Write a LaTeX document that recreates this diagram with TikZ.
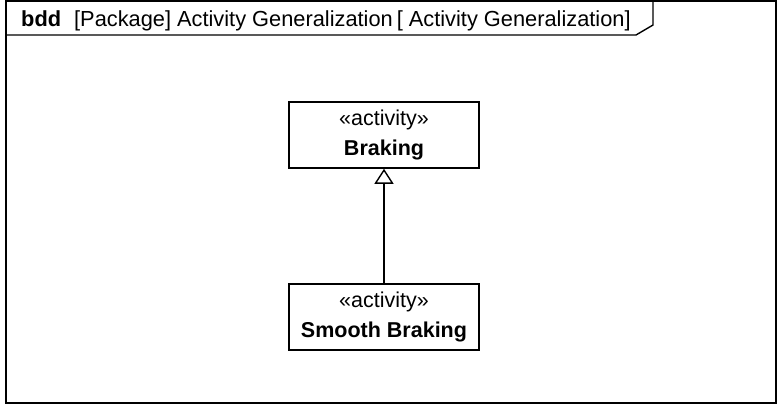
\documentclass[tikz,border=0pt]{standalone}
\usepackage{fontspec}
\setmainfont{Liberation Sans}
\usetikzlibrary{arrows.meta}
\begin{document}
\begin{tikzpicture}[x=1pt,y=-1pt,
  blockbox/.style={draw, line width=1.6pt, minimum width=190pt, minimum height=66pt, inner sep=0pt, align=center, font=\fontsize{21.5}{30}\selectfont},
  genline/.style={line width=1.6pt, -{Triangle[open, width=19pt, length=15pt, line width=1.4pt]}},
  framepen/.style={line width=1.8pt}]
\useasboundingbox (0,0) rectangle (778,404);
\draw[framepen] (6,1) rectangle (776,403);
\draw[line width=1.4pt] (6,35) -- (636,35) -- (653,25) -- (653,1);
\node[anchor=base west, inner sep=0pt, font=\fontsize{21.8}{26}\selectfont] (title) at (21,27) {\textbf{bdd}\hspace{13pt}[Package] Activity Generalization\hspace{4pt}[ Activity Generalization]};
\node[blockbox] (braking) at (384,135) {«activity»\\\textbf{Braking}};
\node[blockbox] (smooth) at (384,317) {«activity»\\\textbf{Smooth Braking}};
\draw[genline] (smooth.north) -- (braking.south);
\end{tikzpicture}
\end{document}
